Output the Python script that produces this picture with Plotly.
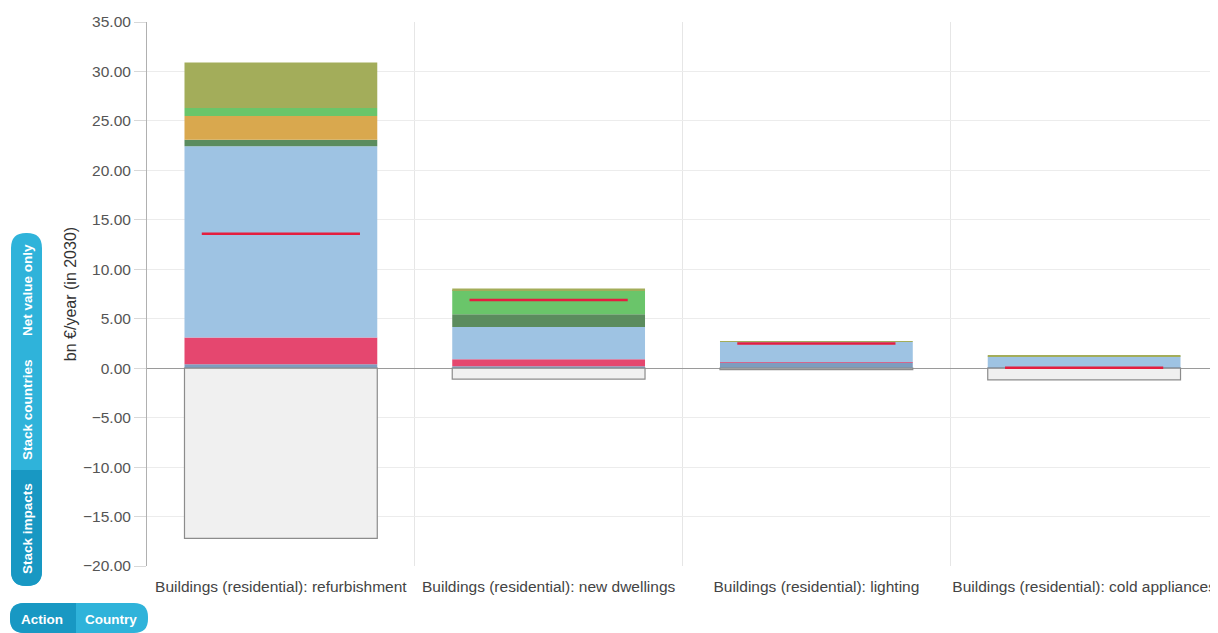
import plotly.graph_objects as go

# ---------------- data ----------------
categories = [
    "Buildings (residential): refurbishment",
    "Buildings (residential): new dwellings",
    "Buildings (residential): lighting",
    "Buildings (residential): cold appliances",
]
impact_a = [0.4, 0.2, 0.55, 0.1]      # blue-grey
impact_b = [2.7, 0.7, 0.05, 0.0]      # pink
impact_c = [19.35, 3.27, 2.08, 1.1]   # light blue
impact_d = [0.65, 1.28, 0.0, 0.0]     # dark green
impact_e = [2.4, 0.0, 0.0, 0.0]       # orange
impact_f = [0.8, 2.45, 0.0, 0.0]      # light green
impact_g = [4.6, 0.15, 0.05, 0.05]    # olive
costs = [-17.2, -1.1, -0.15, -1.18]   # negative (grey)
net_value = [13.6, 6.9, 2.5, 0.05]    # red line

series = [
    ("Impact A", impact_a, "#7d9dbf"),
    ("Impact B", impact_b, "#e5476f"),
    ("Impact C", impact_c, "#9ec3e3"),
    ("Impact D", impact_d, "#5b8c5e"),
    ("Impact E", impact_e, "#d9a84e"),
    ("Impact F", impact_f, "#6ac56a"),
    ("Impact G", impact_g, "#a3ad5a"),
]

OFF = 8  # page body margin
W, H = 1218 - OFF, 633 - OFF
L, T = 147 - OFF, 22 - OFF
PLOT_BOTTOM = 566 - OFF
B = H - PLOT_BOTTOM
R = 0
PW, PH = W - L - R, H - T - B

fig = go.Figure()
for name, vals, col in series:
    fig.add_trace(go.Bar(x=categories, y=vals, name=name, width=0.72,
                         marker=dict(color=col, line=dict(width=0))))
fig.add_trace(go.Bar(x=categories, y=costs, name="Costs", width=0.72,
                     marker=dict(color="#f0f0f0", line=dict(color="#8c8c8c", width=1.2))))
fig.add_trace(go.Scatter(x=categories, y=net_value, mode="markers", name="Net value",
                         marker=dict(symbol="line-ew", size=113,
                                     line=dict(color="#e41e3f", width=2.5))))

# ---------------- UI pills (decor) ----------------
def px2paper(x, y):
    x -= OFF
    y -= OFF
    return (x - L) / PW, (PLOT_BOTTOM - y) / PH

def rounded_path(x0, y0, x1, y1, r, corners):
    tl, tr, br, bl = corners
    def P(x, y):
        a, b = px2paper(x, y)
        return f"{a:.5f},{b:.5f}"
    s = ""
    if tl:
        s += f"M{P(x0, y0 + r)} Q{P(x0, y0)} {P(x0 + r, y0)} "
    else:
        s += f"M{P(x0, y0)} "
    if tr:
        s += f"L{P(x1 - r, y0)} Q{P(x1, y0)} {P(x1, y0 + r)} "
    else:
        s += f"L{P(x1, y0)} "
    if br:
        s += f"L{P(x1, y1 - r)} Q{P(x1, y1)} {P(x1 - r, y1)} "
    else:
        s += f"L{P(x1, y1)} "
    if bl:
        s += f"L{P(x0 + r, y1)} Q{P(x0, y1)} {P(x0, y1 - r)} "
    else:
        s += f"L{P(x0, y1)} "
    s += "Z"
    return s

light = "#2fb3da"
dark = "#1898c3"
shapes = [
    dict(type="path", xref="paper", yref="paper", layer="above",
         path=rounded_path(11, 233, 42, 586, 15, (True, True, True, True)),
         fillcolor=light, line=dict(width=0)),
    dict(type="path", xref="paper", yref="paper", layer="above",
         path=rounded_path(11, 470, 42, 586, 15, (False, False, True, True)),
         fillcolor=dark, line=dict(width=0)),
    dict(type="path", xref="paper", yref="paper", layer="above",
         path=rounded_path(10, 603, 148, 633, 14, (True, True, True, True)),
         fillcolor=light, line=dict(width=0)),
    dict(type="path", xref="paper", yref="paper", layer="above",
         path=rounded_path(10, 603, 76, 633, 14, (True, False, False, True)),
         fillcolor=dark, line=dict(width=0)),
]

btn_font = dict(family="Liberation Sans Narrow, Liberation Sans, Arial, sans-serif",
                size=13.5, color="white", weight="bold")
annots = []
for txt, cy in [("Net value only", 290), ("Stack countries", 410), ("Stack impacts", 529)]:
    ax, ay = px2paper(27, cy)
    annots.append(dict(text=txt, x=ax, y=ay, xref="paper", yref="paper", showarrow=False,
                       textangle=-90, font=btn_font, xanchor="center", yanchor="middle"))
for txt, cx in [("Action", 42), ("Country", 111)]:
    ax, ay = px2paper(cx, 619)
    annots.append(dict(text=txt, x=ax, y=ay, xref="paper", yref="paper", showarrow=False,
                       font=btn_font, xanchor="center", yanchor="middle"))

fig.update_layout(
    width=W, height=H,
    margin=dict(l=L, r=R, t=T, b=B, pad=0, autoexpand=False),
    barmode="relative",
    showlegend=False,
    plot_bgcolor="white", paper_bgcolor="white",
    font=dict(family="Liberation Sans, Arial, sans-serif", color="#444"),
    shapes=shapes,
    annotations=annots,
    xaxis=dict(
        type="category", tickson="boundaries", showgrid=True, gridcolor="#e6e6e6",
        gridwidth=1, ticks="", showline=False, zeroline=False,
        tickfont=dict(size=15.5, color="#444"), range=[-0.5, 3.5],
        tickangle=0, automargin=False, ticklabelstandoff=9,
    ),
    yaxis=dict(
        range=[-20, 35], dtick=5, tickformat=".2f",
        showgrid=True, gridcolor="#ececec", gridwidth=1,
        zeroline=True, zerolinecolor="#9a9a9a", zerolinewidth=1,
        showline=True, linecolor="#b0b0b0", linewidth=1,
        ticks="outside", ticklen=12, tickcolor="#d8d8d8",
        tickfont=dict(size=15.5, color="#555"), automargin=False,
        title=dict(text="bn €/year (in 2030)", font=dict(size=16, color="#333"), standoff=2),
    ),
)

fig.write_html("out.html")
